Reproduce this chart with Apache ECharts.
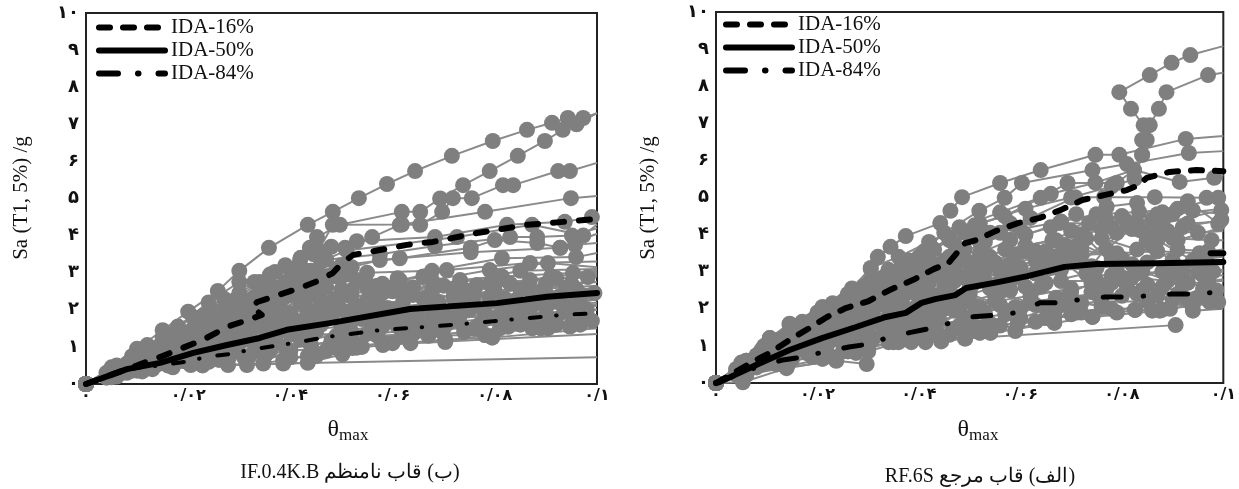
<!DOCTYPE html>
<html><head><meta charset="utf-8">
<style>html,body{margin:0;padding:0;background:#fff}#c{width:1239px;height:489px}</style>
<script src="https://cdn.jsdelivr.net/npm/echarts@6/dist/echarts.min.js"></script>
</head><body><div id="c"></div>
<script>
const xTickLabels=['۰','۰/۰۲','۰/۰۴','۰/۰۶','۰/۰۸','۰/۱'];
const yTickLabels=['۰','۱','۲','۳','۴','۵','۶','۷','۸','۹','۱۰'];
const legendNames=['IDA-16%','IDA-50%','IDA-84%'];

// ---- left panel (IF.0.4K.B): [theta, Sa]
const L01=[[0,0],[.005,.45],[.01,.95],[.015,1.45],[.02,1.95],[.0258,2.51],[.03,3.05],[.0358,3.67],[.0434,4.29],[.0483,4.64],[.0534,5.01],[.0589,5.39],[.0644,5.74],[.0716,6.15],[.0796,6.55],[.0863,6.85],[.0912,7.04],[.0943,7.17],[.0973,7.17],[.1,7.3]];
const L02=[[0,0],[.006,.5],[.012,1.05],[.018,1.55],[.024,2.2],[.03,2.75],[.037,3.02],[.0419,3.34],[.0438,3.67],[.0452,3.96],[.0497,4.29],[.0618,4.64],[.0654,4.64],[.0693,5],[.0738,5.36],[.079,5.74],[.0845,6.15],[.0898,6.55],[.0933,6.85],[.096,7],[.1,7.3]];
const L03=[[0,0],[.004,.3],[.009,.75],[.015,1.25],[.021,1.8],[.027,2.3],[.033,2.75],[.039,3.2],[.0445,3.5],[.0507,3.67],[.056,3.96],[.0614,4.29],[.0654,4.29],[.0697,4.64],[.0718,5.01],[.0755,5.01],[.0816,5.36],[.0836,5.36],[.0924,5.74],[.0947,5.74],[.1,5.96]];
const L04=[[0,0],[.005,.4],[.011,.85],[.017,1.3],[.023,1.75],[.029,2.25],[.035,2.7],[.04,3.1],[.0455,3.6],[.0483,4.29],[.0618,4.3],[.0781,4.64],[.0949,5.01],[.1,5.07]];
const L05=[[0,0],[.005,.38],[.011,.85],[.017,1.35],[.023,1.85],[.03,2.45],[.036,2.95],[.042,3.4],[.048,3.7],[.053,3.85],[.0683,3.96],[.0824,4.29],[.0937,4.37],[.099,4.5],[.1,4.5]];
const L06=[[0,0],[.006,.42],[.012,.9],[.018,1.4],[.024,1.8],[.029,2.2],[.035,2.6],[.041,2.95],[.046,3.3],[.051,3.6],[.0726,3.96],[.0873,4.29],[.0973,4],[.1,4.3]];
const L07=[[0,0],[.007,.45],[.014,.95],[.022,1.45],[.03,2.1],[.036,2.55],[.042,3],[.047,3.35],[.0575,3.5],[.0683,3.72],[.083,3.96],[.0883,3.96],[.0951,4],[.1,4.2]];
const L08=[[0,0],[.007,.4],[.015,.9],[.023,1.4],[.029,1.85],[.035,2.3],[.04,2.7],[.045,3],[.05,3.2],[.0614,3.39],[.0753,3.67],[.08,3.88],[.0883,3.8],[.0928,3.67],[.1,4.05]];
const L09=[[0,0],[.006,.35],[.013,.75],[.02,1.25],[.03,1.8],[.036,2.2],[.041,2.5],[.047,2.9],[.052,3.15],[.0575,3.34],[.0753,3.55],[.0928,3.67],[.0957,3.75],[.1,3.8]];
const L10=[[0,0],[.006,.33],[.012,.7],[.019,1.1],[.025,1.5],[.032,1.95],[.038,2.4],[.044,2.7],[.05,2.9],[.055,3],[.0677,3.05],[.0814,3.39],[.0959,3.42],[.1,3.53]];
const L11=[[0,0],[.005,.28],[.011,.62],[.017,.98],[.024,1.4],[.031,1.85],[.038,2.2],[.045,2.4],[.052,2.53],[.0614,2.8],[.0706,3.07],[.0869,3.26],[.1,3.3]];
const L12=[[0,0],[.006,.32],[.012,.65],[.018,1],[.026,1.5],[.034,1.9],[.042,2.2],[.05,2.4],[.0568,2.53],[.0677,2.8],[.079,3.07],[.0904,3.26],[.1,3.15]];
const L13=[[0,0],[.007,.35],[.014,.7],[.021,1.1],[.029,1.55],[.037,1.95],[.048,2.2],[.055,2.25],[.0614,2.5],[.0732,2.8],[.0814,2.9],[.0953,2.99],[.1,3.05]];
const L14=[[0,0],[.005,.25],[.012,.6],[.02,1],[.028,1.35],[.034,1.65],[.04,1.9],[.049,2.2],[.057,2.3],[.0677,2.5],[.0765,2.67],[.0869,2.8],[.0982,2.88],[.1,2.95]];
const L15=[[0,0],[.008,.4],[.016,.75],[.025,1.15],[.032,1.45],[.038,1.7],[.045,1.9],[.053,2.1],[.062,2.2],[.072,2.4],[.08,2.5],[.09,2.7],[.1,2.75]];
const L16=[[0,0],[.006,.3],[.012,.62],[.019,.95],[.026,1.25],[.033,1.55],[.04,1.8],[.047,2],[.056,2.15],[.066,2.3],[.076,2.42],[.085,2.55],[.094,2.6],[.1,2.65]];
const L17=[[0,0],[.007,.33],[.014,.65],[.022,1],[.03,1.3],[.037,1.55],[.044,1.8],[.051,1.95],[.059,2.05],[.069,2.2],[.079,2.35],[.088,2.45],[.096,2.55],[.1,2.55]];
const L18=[[0,0],[.005,.22],[.01,.48],[.016,.75],[.024,1.05],[.032,1.35],[.04,1.6],[.048,1.8],[.057,1.9],[.067,2],[.075,2.15],[.084,2.25],[.0925,2.35],[.1,2.4]];
const L19=[[0,0],[.008,.35],[.015,.62],[.023,.9],[.031,1.2],[.039,1.45],[.046,1.65],[.054,1.75],[.063,1.85],[.073,1.95],[.082,2.1],[.091,2.2],[.1015,2.3]];
const L20=[[0,0],[.006,.27],[.012,.5],[.019,.72],[.027,1],[.035,1.25],[.043,1.45],[.05,1.55],[.058,1.65],[.068,1.8],[.078,1.95],[.087,2.05],[.096,2.1],[.1,2.1]];
const L21=[[0,0],[.007,.3],[.014,.53],[.021,.75],[.029,.95],[.037,1.15],[.044,1.3],[.052,1.4],[.061,1.55],[.071,1.65],[.081,1.8],[.09,1.9],[.098,2],[.1,2]];
const L22=[[0,0],[.005,.22],[.011,.45],[.018,.62],[.026,.8],[.034,1],[.042,1.2],[.049,1.3],[.0667,1.46],[.074,1.5],[.0826,1.65],[.0904,1.72],[.098,1.85],[.1,1.85]];
const L23=[[0,0],[.006,.25],[.012,.42],[.02,.58],[.028,.72],[.036,.88],[.044,1.05],[.0521,1.2],[.062,1.3],[.0781,1.32],[.0826,1.54],[.0904,1.5],[.0967,1.6],[.1,1.75]];
const L24=[[0,0],[.004,.17],[.009,.36],[.016,.5],[.024,.6],[.032,.75],[.04,.9],[.0491,.97],[.0581,1.1],[.0703,1.13],[.0781,1.32],[.0873,1.5],[.0947,1.55],[.1,1.67]];
const L25=[[0,0],[.005,.2],[.01,.36],[.017,.45],[.0228,.51],[.0278,.51],[.0347,.55],[.0386,.65],[.0434,.75],[.0521,.97],[.0581,1.05],[.0703,1.2],[.0795,1.25],[.1,1.5]];
const L26=[[0,0],[.005,.18],[.011,.34],[.0205,.51],[.0315,.51],[.0434,.57],[.0502,.8],[.054,1],[.0635,1.1],[.1,1.35]];
const L27=[[0,0],[.006,.2],[.013,.4],[.0228,.5],[.0386,.55],[.1,.72]];
const L28=[[0,0],[.007,.38],[.013,.78],[.019,1.15],[.025,1.6],[.031,2.1],[.037,2.6],[.043,3.05],[.049,3.1],[.055,2.7],[.06,2.5],[.07,2.65],[.085,3.05],[.1,3.1]];
const L29=[[0,0],[.011,.78],[.017,.9],[.023,1.2],[.029,1.6],[.035,2.3],[.04,2.4],[.046,2.5],[.052,2.35],[.058,2.45],[.064,2.4],[.072,2.55],[.08,2.7],[.092,2.85],[.1,2.9]];
const L30=[[0,0],[.008,.42],[.018,.82],[.028,1.15],[.036,1.75],[.043,2.1],[.05,1.55],[.055,1.35],[.065,1.7],[.073,1.75],[.083,2],[.093,2.15],[.0995,2.45],[.1,2.45]];
const L31=[[0,0],[.009,.6],[.015,1.05],[.021,1.5],[.026,1.95],[.03,2.35],[.034,2.75],[.039,2.75],[.044,3.05],[.049,2.9],[.055,2.6],[.061,2.85],[.068,2.6],[.075,2.5],[.083,2.7],[.091,2.9],[.1,3]];
const L32=[[0,0],[.012,.7],[.018,1.25],[.024,1.65],[.03,2],[.035,2.4],[.04,2.8],[.045,2.6],[.05,2.55],[.057,2.65],[.064,2.6],[.072,2.3],[.079,2.7],[.087,2.5],[.095,2.7],[.1,2.75]];
const L33=[[0,0],[.01,.55],[.016,.9],[.022,1.3],[.028,1.75],[.033,2.1],[.038,2],[.043,2.35],[.048,1.9],[.054,2],[.06,2],[.067,2.1],[.075,2],[.083,2.1],[.09,2.45],[.097,2.4],[.1,2.45]];
const L34=[[0,0],[.014,.6],[.02,.85],[.026,1.05],[.031,1.5],[.036,1.45],[.041,1.65],[.046,1.6],[.052,1.7],[.059,1.8],[.065,1.6],[.073,1.85],[.081,1.85],[.087,1.85],[.094,1.95],[.1,2]];
const L35=[[0,0],[.008,.3],[.016,.6],[.025,.8],[.03,1.1],[.035,1.2],[.04,1.35],[.045,1.4],[.05,1.2],[.057,1.3],[.064,1.35],[.07,1.5],[.077,1.6],[.085,1.6],[.092,1.6],[.099,1.7],[.1,1.7]];
const L36=[[0,0],[.012,.48],[.019,.62],[.026,.65],[.033,.9],[.039,1],[.044,1.05],[.048,1.15],[.053,.98],[.06,1.1],[.067,1.3],[.074,1.4],[.081,1.5],[.089,1.5],[.095,1.6],[.1,1.65]];
const L37=[[0,0],[.007,.38],[.013,.62],[.02,.65],[.026,.7],[.031,.7],[.035,.75],[.04,.72],[.045,.75],[.05,1.4],[.056,1.55],[.062,1.55],[.068,1.6],[.076,1.5],[.084,1.75],[.092,1.75],[.1,1.8]];
const L38=[[0,0],[.011,.55],[.021,.95],[.027,1.3],[.032,1.3],[.037,1.25],[.042,1.25],[.047,.9],[.051,1.25],[.058,1.55],[.064,1.9],[.07,1.95],[.078,1.75],[.086,2],[.094,2.1],[.1,2.15]];
const L39=[[0,0],[.01,.7],[.016,1.05],[.022,1.55],[.027,1.75],[.032,1.6],[.037,1.8],[.042,1.7],[.046,2.15],[.05,2],[.056,1.8],[.062,1.75],[.069,1.45],[.076,2.1],[.084,1.95],[.09,2.05],[.1,2.2]];
const L40=[[0,0],[.013,.95],[.019,1.4],[.025,1.7],[.028,2],[.033,2.35],[.037,2.6],[.042,2.65],[.047,2.6],[.051,2.95],[.058,2.7],[.066,2.9],[.074,2.55],[.082,2.3],[.089,2.25],[.096,2.15],[.1,2.3]];
const L41=[[0,0],[.008,.55],[.014,.85],[.02,1.2],[.024,1.55],[.029,1.9],[.034,1.9],[.039,2.35],[.044,1.65],[.049,2.3],[.053,2.8],[.06,2.6],[.067,2.2],[.073,2.3],[.08,2.25],[.088,2.3],[.095,2.5],[.1,2.6]];
const P16L=[[0,0],[.0092,.46],[.0145,.73],[.0194,1],[.0229,1.19],[.0276,1.54],[.0315,1.72],[.0344,1.86],[.0325,2.08],[.0335,2.21],[.0366,2.35],[.0419,2.59],[.0458,2.8],[.0483,2.99],[.0501,3.26],[.0523,3.48],[.0575,3.61],[.0628,3.75],[.0679,3.83],[.0765,4.07],[.0863,4.29],[.0933,4.37],[.1,4.45]];
const P50L=[[0,0],[.008,.4],[.0145,.57],[.021,.84],[.0276,1.05],[.034,1.24],[.0393,1.46],[.0477,1.64],[.0634,2.02],[.0804,2.18],[.0902,2.35],[.1,2.45]];
const P84L=[[0,0],[.008,.4],[.0145,.5],[.0194,.6],[.0237,.73],[.0282,.81],[.0321,.92],[.0366,1.02],[.0409,1.11],[.0472,1.27],[.0581,1.46],[.0667,1.54],[.0757,1.64],[.0843,1.75],[.0931,1.86],[.1,1.91]];

// ---- right panel (RF.6S): [theta, Sa]
const R01=[[0,0],[.005,.55],[.0106,1.21],[.0145,1.56],[.021,2.05],[.0268,2.55],[.0305,3.1],[.036,3.4],[.042,3.8],[.048,4.2],[.056,4.6],[.066,5.1],[.0748,5.4],[.0824,5.74],[.084,6.15],[.084,6.55],[.0843,6.95],[.0818,7.39],[.0795,7.84],[.0855,8.3],[.0898,8.63],[.0935,8.84],[.1,9.08]];
const R02=[[0,0],[.006,.6],[.011,1.1],[.017,1.65],[.023,2.15],[.029,2.6],[.034,3.05],[.04,3.4],[.046,3.9],[.052,4.3],[.061,4.7],[.07,5],[.078,5.3],[.0825,5.5],[.084,6.15],[.0849,6.55],[.0855,6.95],[.0873,7.39],[.0888,7.84],[.097,8.3],[.1,8.36]];
const R03=[[0,0],[.0053,.54],[.0106,1.21],[.0145,1.6],[.0209,1.99],[.0268,2.51],[.0305,3.07],[.0319,3.4],[.0344,3.67],[.0374,3.96],[.0442,4.31],[.0462,4.64],[.0485,5.01],[.056,5.39],[.064,5.74],[.0748,6.15],[.0795,6.15],[.0926,6.58],[.1,6.66]];
const R04=[[0,0],[.005,.48],[.0095,1],[.015,1.45],[.02,1.85],[.026,2.3],[.0305,2.75],[.036,3.05],[.041,3.55],[.045,4.05],[.0519,4.64],[.0569,4.99],[.0603,5.39],[.0742,5.74],[.081,5.9],[.0932,6.2],[.1,6.25]];
const R05=[[0,0],[.004,.38],[.009,.9],[.014,1.3],[.019,1.7],[.025,2.2],[.03,2.6],[.035,2.9],[.04,3.35],[.046,3.85],[.051,4.25],[.0569,4.5],[.064,4.99],[.0693,5.39],[.079,5.39],[.0824,5.74],[.0914,5.42],[.0982,5.53],[.1,5.6]];
const R06=[[0,0],[.006,.55],[.012,1.1],[.018,1.5],[.024,1.95],[.031,2.45],[.037,2.75],[.043,3.2],[.048,3.6],[.054,4.05],[.062,4.45],[.0708,5.01],[.0765,5.01],[.0865,5.01],[.0967,4.99],[.1,5]];
const R07=[[0,0],[.005,.45],[.011,.98],[.017,1.4],[.023,1.8],[.029,2.25],[.035,2.6],[.041,3],[.047,3.4],[.053,3.8],[.06,4.15],[.068,4.35],[.075,4.55],[.0834,4.61],[.091,4.7],[.099,4.99],[.1,5]];
const R08=[[0,0],[.005,.42],[.01,.85],[.016,1.25],[.022,1.6],[.028,2],[.034,2.35],[.04,2.7],[.046,3.1],[.052,3.5],[.058,3.85],[.0677,4.31],[.0735,4.3],[.08,4.5],[.088,4.3],[.0996,4.66],[.1,4.66]];
const R09=[[0,0],[.006,.5],[.012,.95],[.018,1.3],[.025,1.7],[.032,2.15],[.039,2.55],[.045,2.85],[.051,3.25],[.057,3.6],[.0663,3.85],[.072,4],[.078,4.2],[.0849,3.85],[.092,4.2],[.0996,4.4],[.1,4.4]];
const R10=[[0,0],[.004,.3],[.009,.7],[.015,1.1],[.021,1.45],[.028,1.8],[.035,2.2],[.042,2.45],[.048,2.85],[.055,3.25],[.061,3.55],[.069,3.7],[.076,3.9],[.083,3.6],[.09,3.9],[.0977,3.85],[.1,3.85]];
const R11=[[0,0],[.005,.35],[.011,.8],[.017,1.1],[.023,1.4],[.03,1.75],[.037,2.05],[.044,2.35],[.05,2.6],[.056,3],[.063,3.3],[.072,3.45],[.079,3.5],[.087,3.55],[.0953,3.5],[.1,3.5]];
const R12=[[0,0],[.006,.42],[.012,.75],[.019,1.1],[.026,1.45],[.034,1.75],[.041,2],[.048,2.3],[.054,2.55],[.06,2.85],[.068,3.05],[.075,3.1],[.082,3.2],[.09,3.3],[.097,3.2],[.1,3.2]];
const R13=[[0,0],[.005,.32],[.01,.65],[.016,.95],[.022,1.2],[.029,1.5],[.036,1.75],[.043,2],[.05,2.2],[.058,2.5],[.065,2.7],[.073,2.95],[.08,2.85],[.088,3],[.096,2.9],[.1,2.9]];
const R14=[[0,0],[.006,.35],[.013,.68],[.02,.98],[.027,1.25],[.034,1.5],[.041,1.75],[.047,1.95],[.055,2.2],[.062,2.35],[.07,2.55],[.078,2.7],[.085,2.65],[.093,2.7],[.0986,2.5],[.1,2.6]];
const R15=[[0,0],[.004,.22],[.009,.5],[.015,.8],[.022,1.05],[.03,1.3],[.037,1.5],[.044,1.7],[.051,1.9],[.059,2.05],[.067,2.3],[.075,2.4],[.083,2.4],[.091,2.4],[.098,2.35],[.1,2.4]];
const R16=[[0,0],[.005,.3],[.011,.55],[.018,.8],[.026,1.1],[.034,1.35],[.042,1.55],[.049,1.7],[.057,1.85],[.065,2.05],[.072,2.15],[.0826,1.97],[.0879,1.97],[.0973,2.18],[.1,2.18]];
const R17=[[0,0],[.006,.28],[.012,.5],[.019,.7],[.027,.9],[.036,1.12],[.044,1.3],[.052,1.5],[.0595,1.62],[.0667,1.78],[.0742,1.78],[.0826,1.97],[.0895,2],[.099,2.18],[.1,2.2]];
const R18=[[0,0],[.0053,.02],[.0139,.4],[.0237,.62],[.0276,.81],[.034,1.1],[.0385,1.1],[.0413,1.1],[.0444,1.24],[.0491,1.2],[.0541,1.35],[.0667,1.62],[.0742,1.78],[.0875,1.95]];
const R19=[[0,0],[.005,.2],[.0139,.42],[.0237,.6],[.0297,.51]];
const R20=[[0,0],[.006,.22],[.014,.45],[.023,.7],[.03,.85],[.036,1.1],[.0444,1.12],[.0491,1.2],[.0906,1.56]];
const R21=[[0,0],[.007,.55],[.0135,1.1],[.02,1.55],[.027,1.95],[.033,2.45],[.04,3.05],[.045,3.3],[.05,2.95],[.056,2.45],[.063,2.1],[.07,2.45],[.078,2.9],[.084,3],[.092,2.65],[.1,2.8]];
const R22=[[0,0],[.004,.36],[.01,.75],[.017,1.2],[.024,1.6],[.03,2],[.036,2.55],[.043,2.9],[.049,3.3],[.053,2.75],[.06,3.1],[.067,3.4],[.074,2.7],[.081,2.6],[.09,3.25],[.1,3.45]];
const R23=[[0,0],[.006,.4],[.0115,.7],[.018,1],[.025,1.35],[.031,1.65],[.037,1.9],[.043,2.25],[.05,2.5],[.056,2.7],[.063,2.95],[.07,3.35],[.077,3.6],[.083,4.3],[.088,4.6],[.094,4.65],[.1,4.55]];
const R24=[[0,0],[.005,.28],[.011,.65],[.016,.88],[.022,1.1],[.028,1.35],[.035,1.5],[.041,1.45],[.048,1.55],[.054,1.6],[.06,1.75],[.068,2.1],[.076,2.2],[.085,2.2],[.094,2.1],[.1,2.15]];
const R25=[[0,0],[.008,.75],[.014,1.25],[.02,1.65],[.026,2.1],[.032,2.5],[.037,3],[.043,3.6],[.047,3.15],[.054,3.2],[.061,3.7],[.067,3.85],[.072,3.25],[.079,4.05],[.086,4.4],[.091,3.85],[.1,4.2]];
const R26=[[0,0],[.006,.6],[.013,1.2],[.019,1.6],[.0255,2.25],[.033,2.85],[.04,3.15],[.046,3.4],[.053,3.45],[.058,3.2],[.0635,3.4],[.071,3.7],[.077,4.4],[.084,4.1],[.09,4.55],[.1,4.7]];
const R27=[[0,0],[.01,.55],[.016,.95],[.023,1.3],[.029,1.6],[.035,1.9],[.04,2.3],[.045,2.6],[.05,2.4],[.056,2.1],[.062,2.2],[.069,2.3],[.076,2.05],[.084,2.5],[.09,2.25],[.096,2.55],[.1,2.6]];
const R28=[[0,0],[.012,1],[.017,1.35],[.022,1.75],[.027,2.2],[.032,2.2],[.037,2.35],[.042,2.05],[.047,2.75],[.052,2.95],[.058,2.9],[.065,3.25],[.072,3.6],[.08,3.35],[.087,3.85],[.094,3.3],[.1,3.4]];
const R29=[[0,0],[.008,.42],[.015,.65],[.021,.65],[.026,.85],[.031,1.2],[.036,1.3],[.04,1.25],[.046,1.3],[.05,1.45],[.056,1.55],[.063,1.65],[.07,1.85],[.078,2],[.086,1.95],[.093,2.25],[.1,2.3]];
const R30=[[0,0],[.01,.6],[.018,.85],[.025,.85],[.03,.95],[.035,1.1],[.039,1.65],[.043,1.4],[.048,1.95],[.053,1.9],[.059,1.4],[.065,1.75],[.072,1.9],[.079,1.9],[.087,2.35],[.094,1.95],[.1,2]];
const R31=[[0,0],[.013,.9],[.02,1.3],[.026,1.7],[.031,1.95],[.036,2.4],[.04,2.5],[.045,2],[.05,1.75],[.055,2.35],[.061,2.6],[.068,2.75],[.075,2.75],[.082,2.85],[.089,2.75],[.095,3],[.1,3.05]];
const R32=[[0,0],[.016,1.35],[.024,1.6],[.03,2.25],[.035,2.6],[.039,2.9],[.044,3],[.049,3.6],[.053,3.05],[.059,3.45],[.065,3.55],[.072,3.75],[.078,3.35],[.085,3.25],[.091,3.6],[.097,3.55],[.1,3.6]];
const R33=[[0,0],[.02,1.9],[.026,2.4],[.031,2.85],[.034,2.4],[.038,3.3],[.042,3.25],[.046,2.5],[.051,4],[.056,4.05],[.061,4],[.066,4.2],[.071,4.55],[.076,4.15],[.082,4.15],[.087,4.55],[.093,4.3],[.1,4.35]];
const R34=[[0,0],[.015,1.55],[.022,1.95],[.028,2.25],[.033,2.65],[.038,2.65],[.042,2.7],[.047,3.75],[.052,3.8],[.058,4.3],[.063,3.55],[.07,4.1],[.077,4.75],[.083,4.85],[.089,4.1],[.095,4.05],[.1,4.1]];
const R35=[[0,0],[.012,1.15],[.018,1.4],[.024,1.35],[.028,1.25],[.033,1.5],[.038,1.7],[.043,1.7],[.048,2.1],[.052,2.05],[.058,2.75],[.064,2.6],[.07,2.1],[.077,2.55],[.083,3],[.09,2.95],[.097,2.75],[.1,2.75]];
const R36=[[0,0],[.009,.65],[.014,.85],[.02,1.1],[.025,1.05],[.029,1.1],[.034,1.25],[.038,1.2],[.042,1.65],[.047,1.45],[.052,1.35],[.06,2],[.067,2],[.074,2.45],[.08,2.35],[.088,2.6],[.095,2.3],[.1,2.35]];
const R37=[[0,0],[.011,.9],[.019,1.55],[.027,1.8],[.034,2],[.039,2],[.044,2.9],[.049,4.05],[.054,3.4],[.06,3],[.066,3.1],[.073,3.9],[.079,3.1],[.086,3.7],[.092,3.05],[.098,3],[.1,3]];
const R38=[[0,0],[.014,1],[.021,1.05],[.03,1.25],[.036,1.55],[.041,1.3],[.046,2.2],[.051,2.7],[.056,2.7],[.062,3.55],[.068,3.45],[.074,3.15],[.081,4.35],[.087,4.1],[.093,4.9],[.099,4.3],[.1,4.3]];
const P16R=[[0,0],[.0086,.67],[.0106,.81],[.0145,1.16],[.0184,1.48],[.0219,1.78],[.0256,2.02],[.0301,2.21],[.0346,2.53],[.0389,2.78],[.0429,3.07],[.0458,3.23],[.0491,3.77],[.0513,3.85],[.0552,4.1],[.0595,4.31],[.0638,4.45],[.0679,4.66],[.0722,4.93],[.0767,5.07],[.081,5.2],[.0834,5.34],[.0849,5.53],[.0894,5.69],[.0947,5.74],[.1,5.71]];
const P50R=[[0,0],[.0008,.03],[.008,.49],[.0145,.89],[.0209,1.21],[.0276,1.51],[.0335,1.78],[.0374,1.89],[.0405,2.16],[.0432,2.26],[.0472,2.37],[.0493,2.56],[.0556,2.72],[.0614,2.88],[.0687,3.13],[.0751,3.21],[.0869,3.23],[.1,3.26]];
const P84R=[[0,0],[.008,.43],[.0131,.62],[.017,.7],[.0213,.84],[.0262,.97],[.0301,1.05],[.0342,1.24],[.0386,1.37],[.0425,1.48],[.0468,1.64],[.0503,1.78],[.0556,1.83],[.0599,1.91],[.0638,2.16],[.0679,2.16],[.0722,2.26],[.0767,2.32],[.081,2.32],[.0855,2.35],[.0898,2.4],[.0943,2.4],[.0986,2.45]];
const STRAY=[[.0975,3.5],[.1,3.5]];

const leftCurves=[L01,L02,L03,L04,L05,L06,L07,L08,L09,L10,L11,L12,L13,L14,L15,L16,L17,L18,L19,L20,L21,L22,L23,L24,L25,L26,L27,L28,L29,L30,L31,L32,L33,L34,L35,L36,L37,L38,L39,L40,L41];
const rightCurves=[R01,R02,R03,R04,R05,R06,R07,R08,R09,R10,R11,R12,R13,R14,R15,R16,R17,R18,R19,R20,R21,R22,R23,R24,R25,R26,R27,R28,R29,R30,R31,R32,R33,R34,R35,R36,R37,R38];

const GRAY='#7f7f7f', SERIF='"Liberation Serif","Times New Roman",serif', DIG='"DejaVu Sans"';
const chart=echarts.init(document.getElementById('c'),null,{renderer:'canvas'});
const gray=(d,i)=>({type:'line',data:d,xAxisIndex:i,yAxisIndex:i,clip:false,symbol:'circle',
  symbolSize:v=>v[0]>=.1?0:16,showSymbol:true,showAllSymbols:true,silent:true,animation:false,z:2,
  lineStyle:{color:'#8a8a8a',width:2},itemStyle:{color:GRAY,borderWidth:0}});
const black=(n,d,i,w,t)=>({type:'line',name:n,data:d,xAxisIndex:i,yAxisIndex:i,clip:false,symbol:'none',silent:true,animation:false,z:5,
  itemStyle:{color:'#000'},lineStyle:{color:'#000',width:w,type:t,cap:'round',join:'round'}});
const axisX=i=>({type:'value',gridIndex:i,min:0,max:.1,interval:.02,
  axisLine:{show:false},axisTick:{show:false},splitLine:{show:false},
  axisLabel:{margin:4,fontFamily:DIG,fontWeight:'bold',fontSize:16,color:'#111',hideOverlap:false,showMinLabel:true,showMaxLabel:true,
    formatter:v=>xTickLabels[Math.round(v/.02)]}});
const axisY=i=>({type:'value',gridIndex:i,min:0,max:10,interval:1,
  axisLine:{show:false},axisTick:{show:false},splitLine:{show:false},
  axisLabel:{margin:7,fontFamily:DIG,fontWeight:'bold',fontSize:18,color:'#111',showMinLabel:true,showMaxLabel:true,
    formatter:v=>yTickLabels[Math.round(v)]}});
const legendLine=[{width:6,type:[11,13],cap:'round',color:'#000'},{width:6,type:'solid',cap:'round',color:'#000'},{width:6,type:[19,20,.5,20],cap:'round',color:'#000'}];
const hidden={opacity:0,color:'rgba(0,0,0,0)',borderWidth:0};
const legend=(left,top,gap)=>[0,1,2].map(k=>({left,top:top+k*gap,orient:'vertical',itemWidth:66,itemHeight:6,itemGap:0,selectedMode:false,padding:0,
  itemStyle:hidden,lineStyle:legendLine[k],
  textStyle:{fontFamily:SERIF,fontSize:21,color:'#111',padding:[0,0,0,1]},
  data:[{name:legendNames[k],itemStyle:hidden,lineStyle:legendLine[k]}]}));
const txt=(x,y,t,size)=>({left:x,top:y,textAlign:'center',textVerticalAlign:'middle',text:t,textStyle:{fontFamily:SERIF,fontSize:size,fontWeight:'normal',color:'#111'}});
const theta=x=>({left:x,top:410,textAlign:'center',text:'{a|θ}{b|max}',textStyle:{fontWeight:'normal',rich:{a:{fontFamily:SERIF,fontSize:24,fontWeight:'normal',color:'#111'},b:{fontFamily:SERIF,fontSize:17,fontWeight:'normal',color:'#111',padding:[12,0,0,0]}}}});
const rotated=(x,y)=>({type:'text',x,y,rotation:Math.PI/2,silent:true,style:{text:'Sa (T1, 5%) /g',font:'21px '+SERIF,fill:'#111',align:'center',verticalAlign:'middle'}});

const dashL=[11,15], dashR=[11,13], dotL=[11,15.5,.5,18], dotR=[18,22,.5,26];
const series=[
  ...leftCurves.map(d=>gray(d,0)),...rightCurves.map(d=>gray(d,1)),
  black('IDA-16%',P16L,0,6,dashL),black('IDA-50%',P50L,0,6,'solid'),black('IDA-84%',P84L,0,4,dotL),
  black('IDA-16%',P16R,1,6,dashR),black('IDA-50%',P50R,1,6,'solid'),black('IDA-84%',P84R,1,5,dotR),
  black('',STRAY,1,6,'solid')
];
chart.setOption({
  animation:false,backgroundColor:'#fff',
  grid:[{left:86,top:13,width:511,height:371,show:true,borderColor:'#222',borderWidth:2,backgroundColor:'transparent'},
        {left:716,top:12,width:511,height:371,show:true,borderColor:'#222',borderWidth:2,backgroundColor:'transparent'}],
  xAxis:[axisX(0),axisX(1)],yAxis:[axisY(0),axisY(1)],
  legend:[...legend(96,17,23),...legend(723,14,23)],
  title:[txt(345,468,'IF.0.4K.B \u200F(ب) قاب نامنظم\u200F',20),txt(975,472,'RF.6S \u200F(الف) قاب مرجع\u200F',20),theta(343),theta(973)],
  graphic:[rotated(21,198),rotated(648,198)],
  series
});
</script></body></html>
